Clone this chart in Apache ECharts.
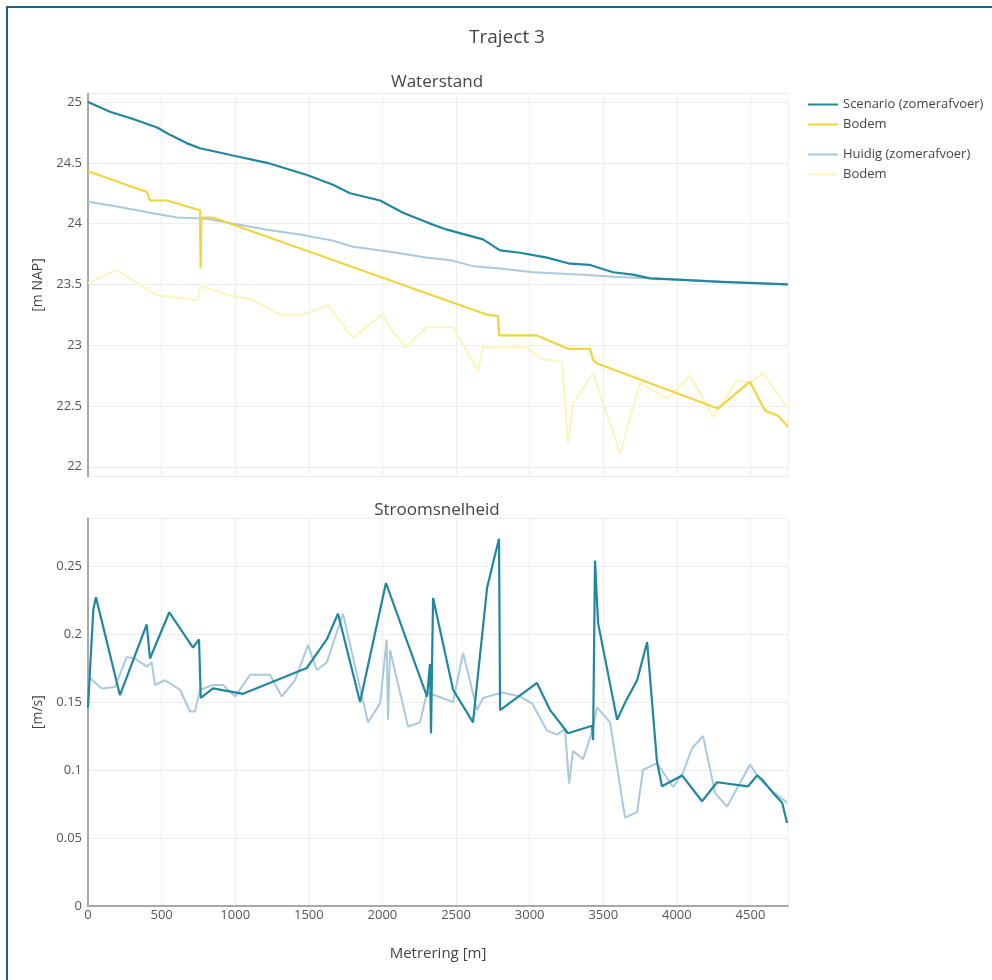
<!DOCTYPE html>
<html>
<head>
<meta charset="utf-8">
<title>Traject 3</title>
<script src="https://cdn.jsdelivr.net/npm/echarts@6/dist/echarts.min.js"></script>
<style>
    html, body { margin: 0; padding: 0; background: #fff; }
    #frame { position: absolute; left: 6px; top: 6px; width: 986px; height: 974px;
             border-top: 2px solid #1d6088; border-left: 2px solid #1d6088; box-sizing: border-box; }
    #chart { position: absolute; left: 0; top: 0; width: 992px; height: 980px; }
</style>
</head>
<body>
<div id="frame"></div>
<div id="chart"></div>
<script>
// waterstand, [metrering m, m NAP]
var scenarioWater = [
    [0, 25.0], [149, 24.92], [306, 24.86], [469, 24.79], [557, 24.73], [673, 24.66],
    [761, 24.62], [985, 24.56], [1216, 24.50], [1488, 24.40], [1664, 24.32], [1780, 24.25],
    [1984, 24.19], [2140, 24.09], [2323, 24.00], [2439, 23.95], [2683, 23.87], [2799, 23.78],
    [2935, 23.76], [3118, 23.72], [3274, 23.67], [3410, 23.66], [3567, 23.60], [3702, 23.58],
    [3818, 23.55], [4001, 23.54], [4293, 23.52], [4755, 23.50]
];
var scenarioBodem = [
    [0, 24.43], [401, 24.26], [421, 24.19], [537, 24.19], [761, 24.11], [765, 23.63],
    [770, 24.05], [849, 24.05], [2711, 23.25], [2785, 23.24], [2792, 23.08], [3050, 23.08],
    [3261, 22.97], [3410, 22.97], [3431, 22.88], [3458, 22.85], [4280, 22.48], [4497, 22.70],
    [4599, 22.46], [4688, 22.42], [4755, 22.33]
];
var huidigWater = [
    [0, 24.18], [197, 24.14], [421, 24.09], [605, 24.05], [808, 24.04], [985, 24.00],
    [1216, 23.95], [1440, 23.91], [1664, 23.86], [1800, 23.81], [2099, 23.76], [2303, 23.72],
    [2459, 23.70], [2615, 23.65], [2799, 23.63], [3023, 23.60], [3363, 23.58], [3594, 23.56],
    [3818, 23.55], [4755, 23.50]
];
var huidigBodem = [
    [0, 23.51], [195, 23.62], [467, 23.41], [747, 23.37], [761, 23.49], [965, 23.41],
    [1121, 23.37], [1304, 23.25], [1461, 23.25], [1630, 23.33], [1800, 23.06], [2004, 23.26],
    [2031, 23.18], [2154, 22.98], [2303, 23.15], [2480, 23.15], [2649, 22.79], [2683, 22.98],
    [2982, 22.98], [3071, 22.89], [3220, 22.86], [3261, 22.19], [3295, 22.52], [3431, 22.77],
    [3614, 22.11], [3750, 22.69], [3933, 22.56], [4090, 22.75], [4246, 22.41], [4409, 22.71],
    [4497, 22.69], [4586, 22.77], [4749, 22.49]
];

// stroomsnelheid, [metrering m, m/s]
var scenarioSnelheid = [
    [0, 0.146], [36, 0.218], [54, 0.227], [217, 0.155], [399, 0.207], [421, 0.182],
    [552, 0.216], [713, 0.190], [754, 0.196], [766, 0.153], [849, 0.160], [1053, 0.156],
    [1486, 0.175], [1622, 0.196], [1698, 0.215], [1848, 0.150], [2024, 0.2375], [2303, 0.154],
    [2323, 0.178], [2330, 0.127], [2344, 0.2265], [2480, 0.159], [2615, 0.135], [2711, 0.234],
    [2751, 0.252], [2792, 0.270], [2799, 0.144], [3050, 0.164], [3139, 0.144], [3261, 0.127],
    [3424, 0.1325], [3431, 0.122], [3444, 0.254], [3465, 0.208], [3594, 0.137], [3655, 0.151],
    [3730, 0.166], [3798, 0.194], [3865, 0.106], [3899, 0.088], [4035, 0.096], [4171, 0.077],
    [4273, 0.091], [4484, 0.088], [4545, 0.096], [4579, 0.093], [4654, 0.083], [4715, 0.076],
    [4749, 0.061]
];
var huidigSnelheid = [
    [0, 0.169], [93, 0.160], [183, 0.161], [263, 0.183], [319, 0.182], [399, 0.176],
    [433, 0.179], [455, 0.1625], [523, 0.166], [625, 0.159], [693, 0.143], [727, 0.143],
    [761, 0.159], [849, 0.1625], [917, 0.1625], [999, 0.154], [1101, 0.170], [1236, 0.170],
    [1316, 0.154], [1406, 0.166], [1495, 0.192], [1554, 0.1735], [1622, 0.179], [1732, 0.215],
    [1902, 0.135], [1984, 0.149], [2029, 0.196], [2038, 0.137], [2052, 0.188], [2174, 0.132],
    [2255, 0.135], [2303, 0.157], [2480, 0.150], [2548, 0.186], [2643, 0.144], [2683, 0.153],
    [2812, 0.157], [2935, 0.154], [3016, 0.149], [3118, 0.129], [3186, 0.126], [3240, 0.130],
    [3268, 0.090], [3295, 0.114], [3363, 0.108], [3424, 0.128], [3458, 0.146], [3546, 0.135],
    [3648, 0.065], [3730, 0.069], [3770, 0.100], [3865, 0.105], [3974, 0.0875], [4042, 0.098],
    [4103, 0.116], [4178, 0.125], [4260, 0.083], [4341, 0.073], [4497, 0.104], [4565, 0.093],
    [4654, 0.084], [4749, 0.076]
];

var legendScenario = ['Scenario (zomerafvoer)', 'Bodem (scenario)'];
var legendHuidig = ['Huidig (zomerafvoer)', 'Bodem (huidig)'];

var kleurScenario = '#21879e';
var kleurScenarioBodem = '#f1d43e';
var kleurHuidig = '#a9c9de';
var kleurHuidigBodem = '#fcf5bd';

var font = 'Open Sans';
var gridColor = '#eeeeee';
var axisColor = '#a8a8a8';

var chart = echarts.init(document.getElementById('chart'));

function legendFormatter(name) {
    return name.indexOf('Bodem') === 0 ? 'Bodem' : name;
}

function lijn(name, data, color, width, xi) {
    return {
        name: name,
        type: 'line',
        xAxisIndex: xi,
        yAxisIndex: xi,
        data: data,
        symbol: 'none',
        showSymbol: false,
        animation: false,
        lineStyle: { color: color, width: width },
        itemStyle: { color: color }
    };
}

function legende(data, top) {
    return {
        data: data,
        orient: 'vertical',
        left: 803,
        top: top,
        icon: 'rect',
        itemWidth: 30,
        itemHeight: 2,
        itemGap: 5,
        formatter: legendFormatter,
        textStyle: { fontFamily: font, fontSize: 13, lineHeight: 15, color: '#444' }
    };
}

var xAxisBase = {
    type: 'value',
    min: 0,
    max: 4755,
    interval: 500,
    splitLine: { show: true, lineStyle: { color: gridColor, width: 1 } },
    axisTick: { show: false }
};

var option = {
    backgroundColor: 'transparent',
    textStyle: { fontFamily: font },
    title: [
        { text: 'Traject 3', left: 502, top: 23, textAlign: 'center',
          textStyle: { fontFamily: font, fontSize: 19, fontWeight: 'normal', color: '#444' } },
        { text: 'Waterstand', left: 432, top: 69, textAlign: 'center',
          textStyle: { fontFamily: font, fontSize: 17, fontWeight: 'normal', color: '#444' } },
        { text: 'Stroomsnelheid', left: 432, top: 497, textAlign: 'center',
          textStyle: { fontFamily: font, fontSize: 17, fontWeight: 'normal', color: '#444' } }
    ],
    legend: [
        legende(legendScenario, 92),
        legende(legendHuidig, 142)
    ],
    grid: [
        { left: 88, top: 93.5, width: 700, height: 383 },
        { left: 88, top: 518.4, width: 700, height: 387.6 }
    ],
    xAxis: [
        Object.assign({}, xAxisBase, {
            gridIndex: 0,
            axisLine: { show: false },
            axisLabel: { show: false }
        }),
        Object.assign({}, xAxisBase, {
            gridIndex: 1,
            name: 'Metrering [m]',
            nameLocation: 'middle',
            nameGap: 40,
            nameTextStyle: { fontFamily: font, fontSize: 15, color: '#444' },
            axisLine: { show: true, onZero: false, lineStyle: { color: axisColor, width: 2 } },
            axisLabel: { fontFamily: font, fontSize: 13, color: '#555', margin: 3, showMaxLabel: false,
                         formatter: function (v) { return String(v); } }
        })
    ],
    yAxis: [
        {
            gridIndex: 0,
            type: 'value',
            min: 21.92,
            max: 25.07,
            splitNumber: 6,
            name: '[m NAP]',
            nameLocation: 'middle',
            nameGap: 39,
            nameRotate: 90,
            nameTextStyle: { fontFamily: font, fontSize: 14, color: '#444' },
            axisLine: { show: true, lineStyle: { color: axisColor, width: 2 } },
            axisTick: { show: false },
            axisLabel: { fontFamily: font, fontSize: 13, color: '#555', margin: 6,
                         showMinLabel: false, showMaxLabel: false },
            splitLine: { show: true, lineStyle: { color: gridColor, width: 1 } }
        },
        {
            gridIndex: 1,
            type: 'value',
            min: 0,
            max: 0.285,
            interval: 0.05,
            name: '[m/s]',
            nameLocation: 'middle',
            nameGap: 39,
            nameRotate: 90,
            nameTextStyle: { fontFamily: font, fontSize: 14, color: '#444' },
            axisLine: { show: true, lineStyle: { color: axisColor, width: 2 } },
            axisTick: { show: false },
            axisLabel: { fontFamily: font, fontSize: 13, color: '#555', margin: 6, showMaxLabel: false },
            splitLine: { show: true, lineStyle: { color: gridColor, width: 1 } }
        }
    ],
    series: [
        lijn('Huidig (zomerafvoer)', huidigWater, kleurHuidig, 2, 0),
        lijn('Bodem (huidig)', huidigBodem, kleurHuidigBodem, 2, 0),
        lijn('Scenario (zomerafvoer)', scenarioWater, kleurScenario, 2.2, 0),
        lijn('Bodem (scenario)', scenarioBodem, kleurScenarioBodem, 2.2, 0),
        lijn('Huidig (zomerafvoer)', huidigSnelheid, kleurHuidig, 2, 1),
        lijn('Scenario (zomerafvoer)', scenarioSnelheid, kleurScenario, 2.2, 1)
    ]
};

chart.setOption(option);
window.addEventListener('resize', chart.resize);
</script>
</body>
</html>
